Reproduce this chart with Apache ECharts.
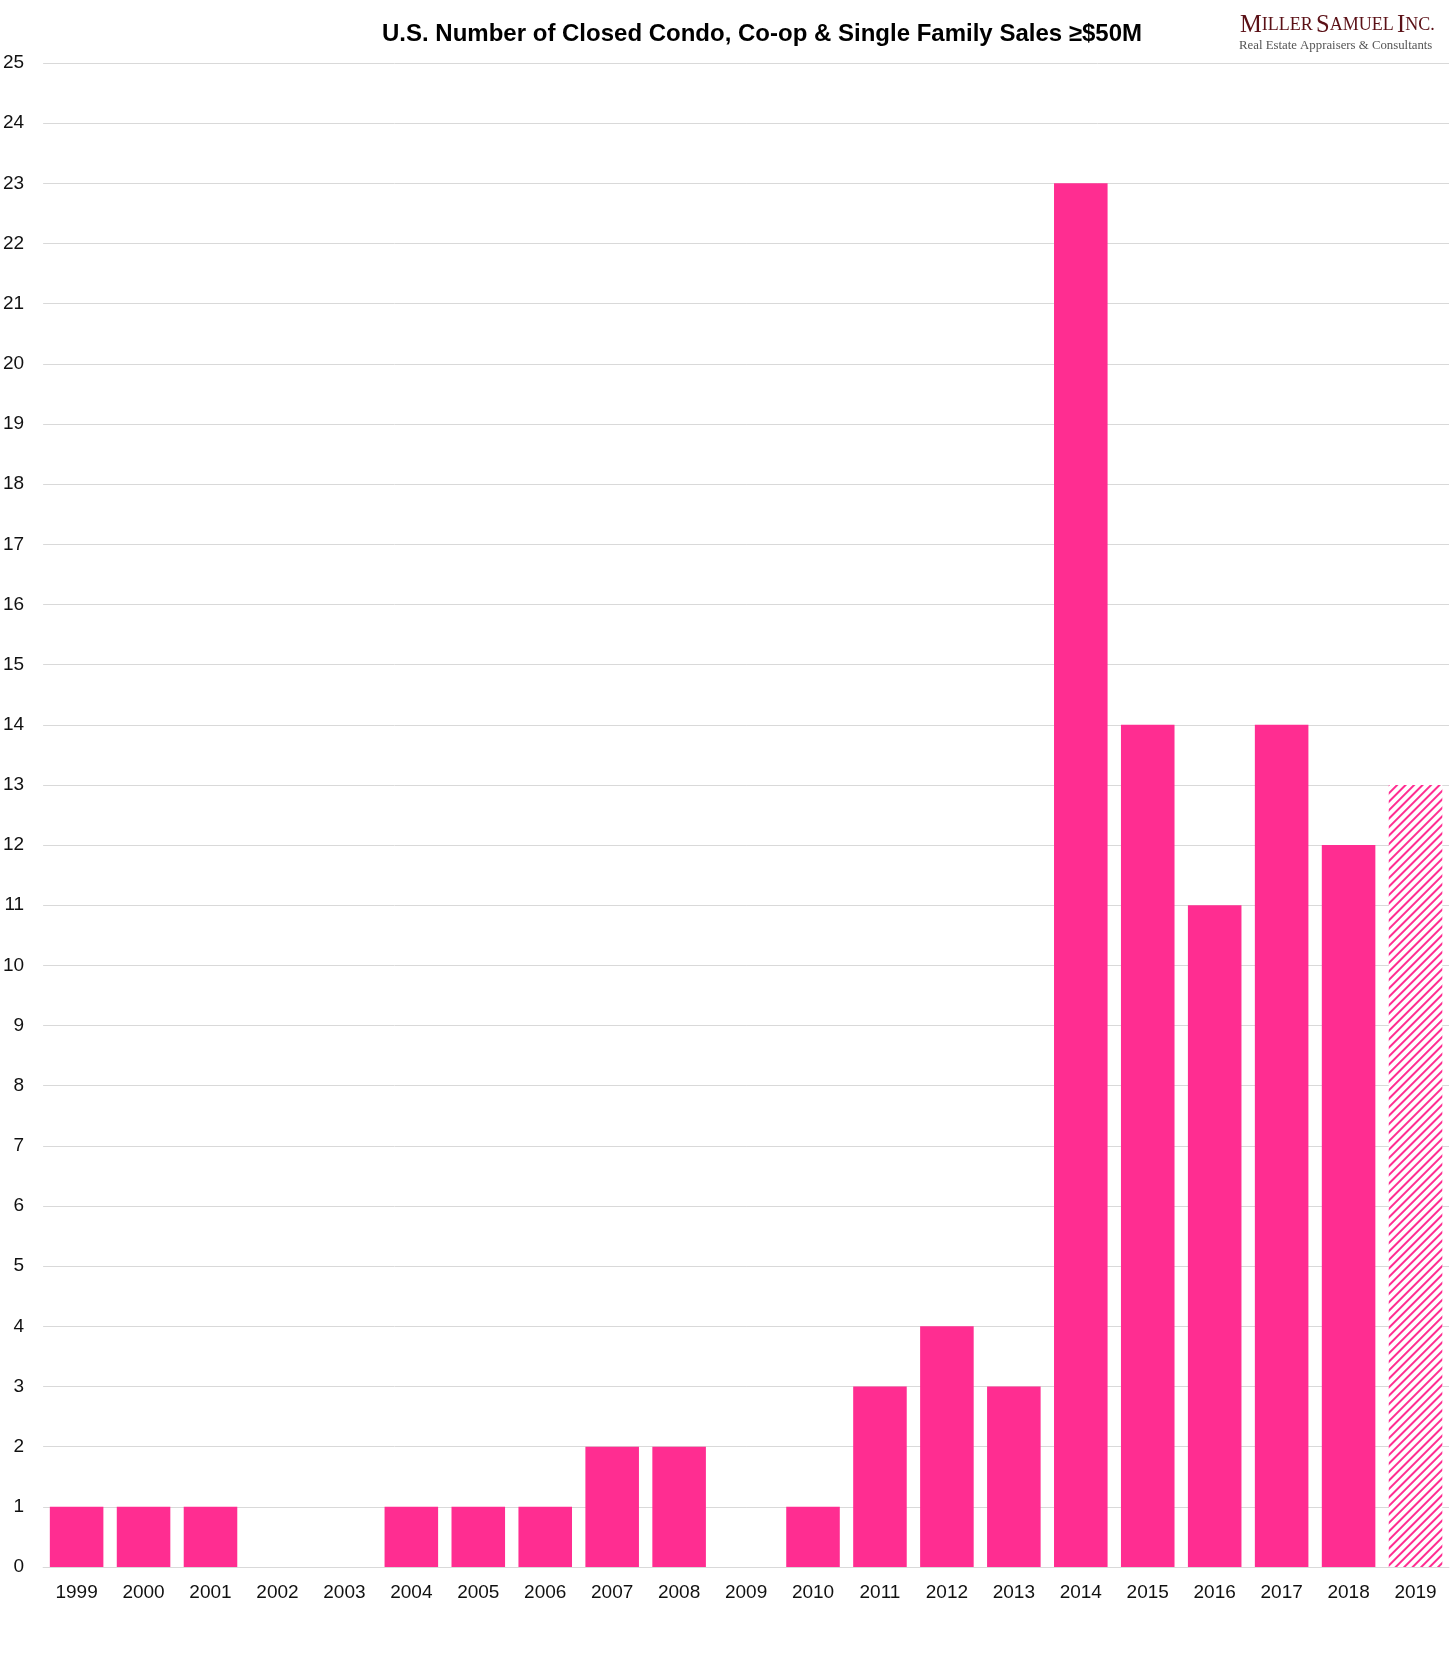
<!DOCTYPE html>
<html><head><meta charset="utf-8">
<script src="https://cdn.jsdelivr.net/npm/echarts@6/dist/echarts.min.js"></script>
<style>html,body{margin:0;padding:0;background:#fff}#c{width:1456px;height:1667px}</style>
</head><body><div id="c"></div>
<script>
const years = ['1999','2000','2001','2002','2003','2004','2005','2006','2007','2008','2009','2010','2011','2012','2013','2014','2015','2016','2017','2018','2019'];
const sales = [1,1,1,0,0,1,1,1,2,2,0,1,3,4,3,23,14,11,14,12,13];
const partialYear = '2019';
const titleText = 'U.S. Number of Closed Condo, Co-op & Single Family Sales ≥$50M';
const PINK = '#ff2d91';

const chart = echarts.init(document.getElementById('c'), null, {renderer:'canvas'});
const data = sales.map((v,i)=> years[i]===partialYear ? {
  value:v,
  itemStyle:{color:'#ffffff', decal:{symbol:'rect', symbolSize:1, dashArrayX:[1,0], dashArrayY:[2,4], rotation:-Math.PI/4, color:PINK}}
} : v);

chart.setOption({
  animation:false,
  backgroundColor:'#fff',
  title:{text:titleText, left:757, top:17, textAlign:'center',
    textStyle:{fontFamily:'Liberation Sans, Arial', fontWeight:'bold', fontSize:24, color:'#000'}},
  graphic:[
    {type:'text', left:1240, top:13, style:{
      text:'{b|M}{s|ILLER} {b|S}{s|AMUEL} {b|I}{s|NC.}',
      rich:{b:{fontFamily:'Liberation Serif, Times New Roman', fontSize:24.5, fill:'#5a1016', fontWeight:'normal'},
            s:{fontFamily:'Liberation Serif, Times New Roman', fontSize:18, fill:'#5a1016'}}
    }},
    {type:'text', left:1239, top:39, style:{text:'Real Estate Appraisers & Consultants', fontFamily:'Liberation Serif, Times New Roman', fontSize:12.8, fill:'#555'}}
  ],
  grid:{left:42, right:7, top:63, bottom:100, containLabel:false},
  xAxis:{type:'category', data:years,
    axisLine:{show:true, lineStyle:{color:'#d9d9d9'}}, axisTick:{show:false},
    axisLabel:{color:'#111', fontSize:19, fontFamily:'Liberation Sans, Arial', margin:16}},
  yAxis:{type:'value', min:0, max:25, interval:1,
    axisLine:{show:false}, axisTick:{show:false},
    splitLine:{lineStyle:{color:'#d9d9d9', width:1}},
    axisLabel:{color:'#111', fontSize:19, fontFamily:'Liberation Sans, Arial', margin:19}},
  series:[{type:'bar', data:data, barCategoryGap:'20%', itemStyle:{color:PINK}}]
});
</script></body></html>
